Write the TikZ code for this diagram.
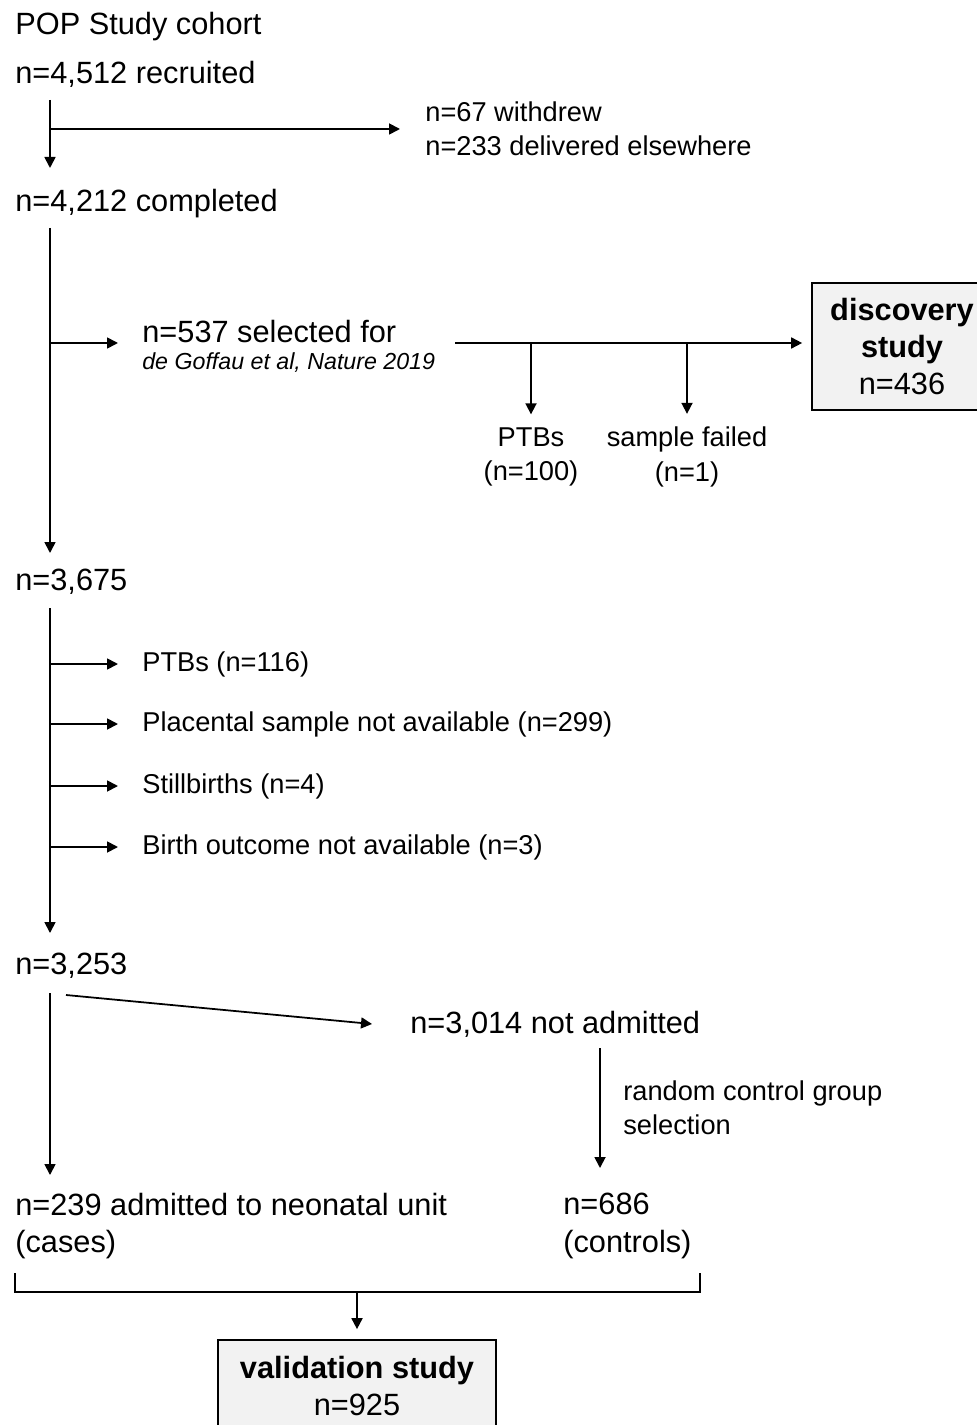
\documentclass[tikz,border=0pt]{standalone}
\usepackage{fontspec}
\setmainfont{Liberation Sans}
\usetikzlibrary{arrows.meta}
\usetikzlibrary{positioning}
\tikzset{
    lbl/.style={anchor=west, inner sep=0pt, align=left, yshift=-0.04cm,
        font=\fontsize{17.5}{21.5}\selectfont},
    nlbl/.style={lbl, font=\fontsize{15.5}{19.5}\selectfont},
    clbl/.style={inner sep=0pt, align=center, yshift=-0.04cm, font=\fontsize{15.5}{19.5}\selectfont},
    ref/.style={lbl, font=\fontsize{13.2}{15}\selectfont\itshape},
    studybox/.style={draw, fill=gray!10, line width=1pt, align=center, inner sep=0pt,
        font=\fontsize{17.5}{21}\selectfont},
    arr/.style={-{Triangle[length=2.2mm,width=2.2mm]}, line width=1pt},
    ln/.style={line width=1pt}
}

\begin{document}
\begin{tikzpicture}[x=0.02cm, y=-0.02cm]
		\useasboundingbox (0,0) rectangle (976,1425);

		% cohort
		\node[lbl] (cohort) at (15,25) {POP Study cohort};
		\node[lbl] (rec) at (15,72) {n=4,512 recruited};
		\node[nlbl] (excl) at (425,127) {n=67 withdrew\\n=233 delivered elsewhere};
		\node[lbl] (compl) at (15,202) {n=4,212 completed};

		\coordinate (t1) at (50,100);
		\coordinate (b1) at (50,168);
		\draw[arr] (t1) -- (b1);
		\draw[arr] (excl.west -| t1) -- ([xshift=-0.5cm]excl.west);

		% discovery study
		\node[lbl] (sel) at (142,330) {n=537 selected for};
		\node[ref] (selref) at (142,361) {de Goffau et al, Nature 2019};
		\node[studybox, minimum width=3.6cm, minimum height=2.54cm] (disc) at (902,346.5)
			{\textbf{discovery}\\\textbf{study}\\n=436};
		\node[clbl] (ptb1) at (531,455) {PTBs\\(n=100)};
		\node[clbl] (fail) at (687,455) {sample failed\\(n=1)};

		\coordinate (t2) at (50,228);
		\coordinate (b2) at (50,553);
		\coordinate (c0) at (455,343);
		\draw[arr] (t2) -- (b2);
		\draw[arr] (c0 -| t2) -- (118,343);
		\draw[arr, shorten >=0.18cm] (c0) -- (c0 -| disc.west);
		\draw[arr, shorten >=0.26cm] (c0 -| ptb1.north) -- (ptb1.north);
		\draw[arr, shorten >=0.26cm] (c0 -| fail.north) -- (fail.north);

		% exclusions
		\node[lbl] (n3675) at (15,580) {n=3,675};
		\node[nlbl] (ptb2) at (142,662) {PTBs (n=116)};
		\node[nlbl] (plac) at (142,722) {Placental sample not available (n=299)};
		\node[nlbl] (still) at (142,784) {Stillbirths (n=4)};
		\node[nlbl] (birth) at (142,845) {Birth outcome not available (n=3)};
		\node[lbl] (n3253) at (15,964) {n=3,253};

		\coordinate (t3) at (50,608);
		\coordinate (b3) at (50,933);
		\draw[arr] (t3) -- (b3);
		\foreach \n in {ptb2,plac,still,birth}
			\draw[arr] (\n.west -| t3) -- ([xshift=-0.48cm]\n.west);

		% validation study
		\node[lbl] (notadm) at (410,1022) {n=3,014 not admitted};
		\node[nlbl] (rand) at (623,1106) {random control group\\selection};
		\node[lbl] (cases) at (15,1224) {n=239 admitted to neonatal unit\\(cases)};
		\node[lbl] (ctrl) at (563,1224) {n=686\\(controls)};
		\node[studybox, minimum width=5.56cm, minimum height=1.84cm] (val) at (357,1386)
			{\textbf{validation study}\\n=925};

		\coordinate (t4) at (50,993);
		\coordinate (b4) at (50,1175);
		\coordinate (d0) at (66,995);
		\coordinate (r0) at (600,1048);
		\coordinate (r1) at (600,1168);
		\draw[arr] (t4) -- (b4);
		\draw[arr] (d0) -- ([xshift=-0.76cm]notadm.west);
		\draw[arr] (r0) -- (r1);

		% bracket
		\coordinate (bl) at (15,1273);
		\coordinate (br) at (700,1273);
		\coordinate (bmid) at (357,1292);
		\draw[ln] (bl) |- (bmid) -| (br);
		\draw[arr, shorten >=0.2cm] (bmid) -- (val.north);

	\end{tikzpicture}
\end{document}
